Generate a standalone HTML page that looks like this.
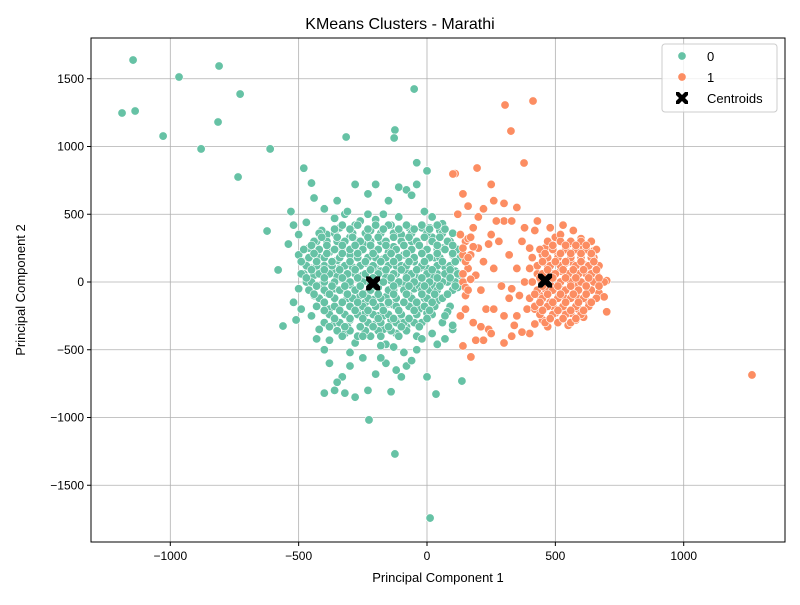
<!DOCTYPE html>
<html><head><meta charset="utf-8"><style>
html,body{margin:0;padding:0;background:#fff;}
svg text{font-family:"Liberation Sans","DejaVu Sans",sans-serif;}
</style></head><body>
<svg id="chart" width="800" height="600" viewBox="0 0 800 600" xmlns="http://www.w3.org/2000/svg">
<rect x="0" y="0" width="800" height="600" fill="#fff"/>
<g id="grid"></g>
<g id="pts0"></g>
<g id="pts1"></g>
<g id="cents"></g>
<rect x="91" y="38" width="694" height="504" fill="none" stroke="#000" stroke-width="1"/>
<g id="ticks"></g>
<text x="400" y="29" text-anchor="middle" font-size="16">KMeans Clusters - Marathi</text>
<text x="438" y="582" text-anchor="middle" font-size="13">Principal Component 1</text>
<text x="25" y="290" text-anchor="middle" font-size="13" transform="rotate(-90 25 290)">Principal Component 2</text>
<g>
<rect x="662" y="44" width="115" height="68" rx="3" fill="#fff" fill-opacity="0.8" stroke="#ccc"/>
<circle cx="682" cy="56" r="4.2" fill="#66c2a5" stroke="#fff" stroke-width="0.7"/>
<text x="707" y="61" font-size="13">0</text>
<circle cx="682" cy="77" r="4.2" fill="#fc8d62" stroke="#fff" stroke-width="0.7"/>
<text x="707" y="82" font-size="13">1</text>
<path d="M676,92 L679,92 L682,95 L685,92 L688,92 L688,95 L685,98 L688,101 L688,104 L685,104 L682,101 L679,104 L676,104 L676,101 L679,98 L676,95 Z" fill="#000"/>
<text x="707" y="103" font-size="13">Centroids</text>
</g>
</svg>
<script>
const xTicks = [-1000, -500, 0, 500, 1000];
const yTicks = [-1500, -1000, -500, 0, 500, 1000, 1500];
const xTickLabels = ["\u22121000", "\u2212500", "0", "500", "1000"];
const yTickLabels = ["\u22121500", "\u22121000", "\u2212500", "0", "500", "1000", "1500"];
const centroids = [[-210, -10], [460, 10]];
const cluster0Outliers = [[-1145,1638],[-966,1513],[-810,1594],[-1188,1247],[-1137,1262],[-728,1387],[-1028,1077],[-814,1181],[-880,982],[-736,775],[-611,982],[-315,1070],[-50,1424],[-125,1122],[-128,1063],[-623,376],[-580,89],[-561,-325],[-226,-1018],[-125,-1269],[12,-1742],[136,-731],[35,-827]];
const cluster0Points = [[-500,200],[-480,150],[-460,250],[-450,100],[-440,50],[-430,300],[-420,180],[-410,-20],[-400,120],[-390,350],[-380,220],[-370,80],[-360,-50],[-350,160],[-340,400],[-330,260],[-320,20],[-310,-120],[-300,330],[-290,180],[-280,60],[-270,-200],[-260,450],[-250,280],[-240,140],[-230,-80],[-220,380],[-210,240],[-200,100],[-190,-40],[-180,300],[-170,170],[-160,40],[-150,-160],[-140,420],[-130,260],[-120,120],[-110,-10],[-100,350],[-90,200],[-80,70],[-70,-100],[-60,300],[-50,150],[-40,30],[-30,-200],[-20,400],[-10,230],[0,100],[10,-60],[20,330],[30,180],[40,60],[50,-120],[60,250],[70,110],[80,0],[90,-180],[100,200],[110,80],[120,-40],
[-450,-250],[-420,-350],[-400,-150],[-380,-430],[-360,-300],[-340,-200],[-320,-380],[-300,-280],[-280,-450],[-260,-330],[-240,-230],[-220,-400],[-200,-310],[-180,-180],[-160,-460],[-140,-280],[-120,-380],[-100,-250],[-80,-330],[-60,-180],[-40,-400],[-20,-300],[0,-230],[20,-380],[40,-140],[60,-300],[80,-220],[100,-350],
[-520,-150],[-500,-50],[-470,0],[-440,-100],[-410,380],[-390,-80],[-360,470],[-340,100],[-320,500],[-300,-20],[-280,420],[-270,300],[-250,10],[-230,500],[-200,460],[-190,-250],[-170,-350],[-150,220],[-130,-60],[-110,480],[-90,-300],[-70,400],[-50,-50],[-30,100],[-10,-120],[10,400],[30,-30],[50,380],[70,-250],[90,300],[110,150],[130,50],
[-380,-600],[-360,-800],[-330,-700],[-300,-620],[-280,-850],[-250,-560],[-230,-800],[-200,-680],[-160,-600],[-120,-650],[-100,-700],[-80,-620],[-40,-500],[-20,-420],[0,-700],[40,-460],[70,-420],[100,-320],[-400,-820],[-320,-820],[-350,-740],[-300,-520],[-180,-560],[-90,-520],[-130,-480],
[-350,600],[-310,520],[-280,720],[-230,650],[-200,720],[-170,500],[-150,600],[-110,700],[-80,680],[-60,640],[-40,720],[-10,520],[20,480],[60,430],[-40,880],[0,820],[-450,730],[-480,840],[-440,620],[-400,540],[-530,520],[-520,420],[-470,440],[-500,350],[-540,280],[-510,-280],[-490,-200],[-480,60],[-430,-420],[-400,-500],[-140,-810],[-180,-470],[-60,-580],
[-250,50],[-220,-20],[-180,80],[-160,-110],[-140,10],[-120,60],[-200,180],[-260,-100],[-330,-60],[-350,40],[-290,110],[-240,-150],[-210,-130],[-170,-250],[-130,-170],[-90,0],[-70,150],[-30,-30],[-100,120],[-60,50],[20,50],[40,240],[-300,200],[-350,300],[-400,0],[-420,100],[-380,-200],[-310,-330],[-270,-400],
[-330,420],[-270,420],[-200,420],[-150,420],[-80,420],[-20,420],[40,420],
[-420,360],[-360,360],[-290,360],[-240,360],[-180,360],[-130,360],[-60,360],[0,360],[60,360],[100,360],
[-440,300],[-390,300],[-320,300],[-260,300],[-220,300],[-160,300],[-100,300],[-40,300],[20,300],[80,300],
[-480,240],[-420,240],[-360,240],[-300,240],[-250,240],[-190,240],[-120,240],[-60,240],[0,240],[70,240],[120,240],
[-460,180],[-400,180],[-340,180],[-270,180],[-230,180],[-160,180],[-110,180],[-50,180],[10,180],[50,180],[130,180],
[-470,120],[-430,120],[-370,120],[-320,120],[-260,120],[-210,120],[-150,120],[-80,120],[-20,120],[40,120],[90,120],
[-490,60],[-420,60],[-380,60],[-310,60],[-240,60],[-190,60],[-130,60],[-60,60],[0,60],[70,60],[120,60],
[-450,0],[-360,0],[-300,0],[-250,0],[-170,0],[-110,0],[-50,0],[10,0],[60,0],[110,0],
[-460,-60],[-400,-60],[-340,-60],[-280,-60],[-220,-60],[-150,-60],[-90,-60],[-20,-60],[40,-60],[100,-60],
[-420,-120],[-360,-120],[-290,-120],[-230,-120],[-180,-120],[-120,-120],[-60,-120],[0,-120],[60,-120],
[-430,-180],[-360,-180],[-300,-180],[-250,-180],[-200,-180],[-120,-180],[-70,-180],[-10,-180],[30,-180],
[-380,-240],[-320,-240],[-270,-240],[-210,-240],[-150,-240],[-100,-240],[-40,-240],[20,-240],
[-400,-300],[-340,-300],[-230,-300],[-180,-300],[-120,-300],[-50,-300],
[-350,-360],[-300,-360],[-240,-360],[-190,-360],[-140,-360],[-80,-360],
[-360,390],[-300,390],[-230,390],[-170,390],[-110,390],[-50,390],[10,390],[70,390],
[-410,330],[-350,330],[-290,330],[-230,330],[-190,330],[-130,330],[-70,330],[-10,330],[50,330],
[-450,270],[-390,270],[-330,270],[-280,270],[-220,270],[-160,270],[-90,270],[-30,270],[40,270],[100,270],
[-440,210],[-390,210],[-330,210],[-270,210],[-210,210],[-140,210],[-80,210],[-20,210],[40,210],[100,210],
[-490,150],[-430,150],[-370,150],[-300,150],[-240,150],[-180,150],[-130,150],[-70,150],[-10,150],[60,150],[110,150],
[-450,90],[-400,90],[-340,90],[-280,90],[-220,90],[-160,90],[-100,90],[-40,90],[20,90],[90,90],
[-470,30],[-400,30],[-330,30],[-270,30],[-210,30],[-140,30],[-80,30],[-20,30],[40,30],[90,30],
[-430,-30],[-370,-30],[-320,-30],[-260,-30],[-200,-30],[-130,-30],[-70,-30],[-10,-30],[50,-30],[110,-30],
[-440,-90],[-380,-90],[-310,-90],[-250,-90],[-190,-90],[-130,-90],[-80,-90],[-20,-90],[30,-90],[80,-90],
[-400,-150],[-330,-150],[-270,-150],[-210,-150],[-150,-150],[-90,-150],[-40,-150],[20,-150],
[-400,-210],[-340,-210],[-280,-210],[-230,-210],[-170,-210],[-110,-210],[-50,-210],[10,-210],
[-360,-270],[-300,-270],[-250,-270],[-190,-270],[-130,-270],[-70,-270],[0,-270],
[-380,-330],[-320,-330],[-260,-330],[-210,-330],[-150,-330],[-100,-330],[-30,-330],
[-330,-400],[-250,-400],[-180,-400],[-110,-400]];
const cluster1Outliers = [[304,1306],[413,1336],[327,1114],[378,878],[1266,-686],[171,-553],[140,-472],[195,841],[101,797]];
const cluster1Points = [[150,300],[170,200],[160,100],[140,0],[150,-100],[180,400],[200,250],[220,150],[190,50],[210,-60],[230,-200],[250,350],[260,100],[240,-350],[280,300],[300,450],[320,200],[330,-50],[300,-250],[340,-320],[350,100],[370,300],[380,0],[390,-200],[400,-380],[410,180],[420,380],[430,60],[440,-100],[450,-280],[460,250],[470,120],[480,-20],[490,-180],[500,330],[510,200],[520,80],[530,-60],[540,-220],[550,280],[560,150],[570,40],[580,-100],[590,-200],[600,250],[610,130],[620,0],[630,-150],[640,300],[650,180],[660,60],[670,-80],[700,10],[690,-110],[700,-220],[610,-260],[560,-230],[510,-300],[470,-330],[420,-310],[370,-370],[330,-400],[430,450],[480,400],[530,420],[570,380],[600,320],[520,350],[450,200],[400,250],[360,-100],[350,-250],[420,-200],[480,-150],[530,-100],[580,-30],[620,60],[650,230],[540,140],[490,60],[440,20],[400,100],[460,-50],[500,-230],[550,-320],[580,-280],[260,600],[300,580],[250,720],[220,540],[200,480],[270,450],[330,450],[240,280],[120,500],[140,650],[110,800],[160,560],[300,-450],[250,-380],[220,-430],[190,-430],[260,-200],[320,-120],[290,-30],[350,550],[380,400],[210,-330],[180,-300],[130,-250],[150,-200],[140,200],[130,350],
[470,300],[520,300],[560,300],[600,300],[640,300],
[440,240],[490,240],[540,240],[580,240],[620,240],[660,240],
[470,180],[510,180],[560,180],[600,180],[640,180],
[430,120],[480,120],[520,120],[580,120],[630,120],[670,120],
[450,60],[500,60],[550,60],[590,60],[640,60],
[410,0],[470,0],[520,0],[560,0],[600,0],[650,0],[690,0],
[430,-60],[490,-60],[540,-60],[590,-60],[640,-60],
[400,-120],[450,-120],[510,-120],[560,-120],[610,-120],[660,-120],
[420,-180],[470,-180],[530,-180],[580,-180],[630,-180],
[440,-240],[490,-240],[540,-240],[600,-240],
[460,-300],[510,-300],[560,-300],
[140,60],[150,150],[140,250],[160,320],[150,-40],
[490,270],[540,270],[580,270],[620,270],
[460,210],[520,210],[560,210],[600,210],[640,210],
[450,150],[500,150],[540,150],[600,150],[650,150],
[470,90],[530,90],[570,90],[610,90],[660,90],
[440,30],[490,30],[540,30],[580,30],[630,30],[670,30],
[450,-30],[510,-30],[560,-30],[620,-30],[670,-30],
[420,-90],[470,-90],[520,-90],[570,-90],[620,-90],
[440,-150],[490,-150],[540,-150],[590,-150],[640,-150],
[450,-210],[510,-210],[560,-210],[610,-210],
[480,-270],[530,-270],[580,-270],
[170,330],[180,260],[160,180],[170,20],[160,-60]];

const X0 = 427, XS = 0.2567, Y0 = 282, YS = 0.1355;
function xScale(v){ return X0 + v * XS; }
function yScale(v){ return Y0 - v * YS; }
const NS = "http://www.w3.org/2000/svg";
function mk(tag, parent){ const e = document.createElementNS(NS, tag); parent.appendChild(e); return e; }

const grid = document.getElementById('grid');
const ticks = document.getElementById('ticks');
xTicks.forEach((t, i) => {
  const x = xScale(t);
  const gl = mk('line', grid);
  
  
  gl.setAttribute('x1', x); gl.setAttribute('x2', x); gl.setAttribute('y1', 38); gl.setAttribute('y2', 542);
  gl.setAttribute('stroke', '#b0b0b0'); gl.setAttribute('stroke-width', '0.8');
  const tk = mk('line', ticks);
  
  
  tk.setAttribute('x1', x); tk.setAttribute('x2', x); tk.setAttribute('y1', 542); tk.setAttribute('y2', 546); tk.setAttribute('stroke', '#000');
  const tl = mk('text', ticks);
  
  
  tl.setAttribute('x', x); tl.setAttribute('y', 560); tl.setAttribute('text-anchor', 'middle'); tl.setAttribute('font-size', '12');
  tl.textContent = xTickLabels[i];
});
yTicks.forEach((t, i) => {
  const y = yScale(t);
  const gl = mk('line', grid);
  
  
  gl.setAttribute('x1', 91); gl.setAttribute('x2', 785); gl.setAttribute('y1', y); gl.setAttribute('y2', y);
  gl.setAttribute('stroke', '#b0b0b0'); gl.setAttribute('stroke-width', '0.8');
  const tk = mk('line', ticks);
  
  
  tk.setAttribute('x1', 87); tk.setAttribute('x2', 91); tk.setAttribute('y1', y); tk.setAttribute('y2', y); tk.setAttribute('stroke', '#000');
  const tl = mk('text', ticks);
  
  
  tl.setAttribute('x', 84); tl.setAttribute('y', y + 4); tl.setAttribute('text-anchor', 'end'); tl.setAttribute('font-size', '12');
  tl.textContent = yTickLabels[i];
});

function drawPoints(list, gid, color){
  const g = document.getElementById(gid);
  list.forEach(p => {
    const c = mk('circle', g);
    
    
    c.setAttribute('cx', xScale(p[0])); c.setAttribute('cy', yScale(p[1])); c.setAttribute('r', 4.2);
    c.setAttribute('fill', color); c.setAttribute('stroke', '#fff'); c.setAttribute('stroke-width', '0.6');
  });
}
drawPoints(cluster0Points, 'pts0', '#66c2a5');
drawPoints(cluster0Outliers, 'pts0', '#66c2a5');
drawPoints(cluster1Points, 'pts1', '#fc8d62');
drawPoints(cluster1Outliers, 'pts1', '#fc8d62');

const cg = document.getElementById('cents');
centroids.forEach(c => {
  const x = xScale(c[0]), y = yScale(c[1]);
  const p = mk('path', cg);
  
  
  p.setAttribute('d', `M${x-7},${y-7} L${x-3},${y-7} L${x},${y-4} L${x+3},${y-7} L${x+7},${y-7} L${x+7},${y-3} L${x+4},${y} L${x+7},${y+3} L${x+7},${y+7} L${x+3},${y+7} L${x},${y+4} L${x-3},${y+7} L${x-7},${y+7} L${x-7},${y+3} L${x-4},${y} L${x-7},${y-3} Z`);
  p.setAttribute('fill', '#000');
});
</script>
</body></html>
